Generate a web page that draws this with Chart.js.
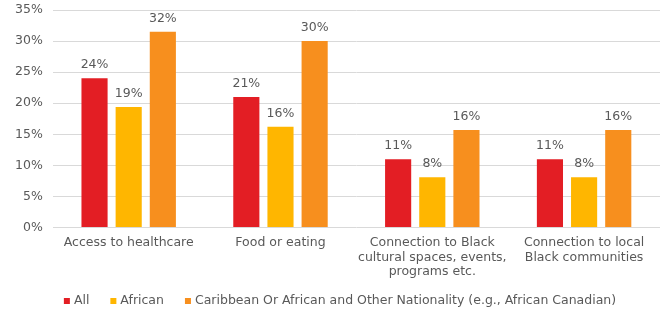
<!DOCTYPE html>
<html lang="en">
<head>
<meta charset="UTF-8">
<title>Barriers chart</title>
<script src="https://cdn.jsdelivr.net/npm/chart.js@4.4.1/dist/chart.umd.min.js"></script>
<style>
  html, body { margin: 0; padding: 0; background: #fff; }
  #wrap { width: 662px; height: 310px; }
</style>
</head>
<body>
<div id="wrap"><canvas id="myChart" width="662" height="310"></canvas></div>
<script>
// data
const categories = [
  'Access to healthcare',
  'Food or eating',
  ['Connection to Black', 'cultural spaces, events,', 'programs etc.'],
  ['Connection to local', 'Black communities']
];
const seriesNames = ['All', 'African', 'Caribbean Or African and Other Nationality (e.g., African Canadian)'];
const allValues = [24, 21, 11, 11];
const africanValues = [19.4, 16.2, 8.1, 8.1];
const caribbeanValues = [31.5, 30, 15.7, 15.7];
const yTicks = [0, 5, 10, 15, 20, 25, 30, 35];
const colors = ['#E31E24', '#FFB600', '#F78F1E'];

const textColor = '#595959';
const fontFamily = '"DejaVu Sans", sans-serif';
const fontSize = 12.5;

// value labels above the bars
const barLabels = {
  id: 'barLabels',
  afterDatasetsDraw(chart) {
    const ctx = chart.ctx;
    ctx.save();
    ctx.fillStyle = textColor;
    ctx.font = fontSize + 'px ' + fontFamily;
    ctx.textAlign = 'center';
    ctx.textBaseline = 'bottom';
    chart.data.datasets.forEach((ds, i) => {
      chart.getDatasetMeta(i).data.forEach((bar, j) => {
        ctx.fillText(Math.round(ds.data[j]) + '%', bar.x, bar.y - 7);
      });
    });
    ctx.restore();
  }
};

// small square legend under the axis labels
const bottomLegend = {
  id: 'bottomLegend',
  afterDraw(chart) {
    const ctx = chart.ctx;
    const box = 6, gap = 4, itemGap = 21, y = 301;
    ctx.save();
    ctx.font = fontSize + 'px ' + fontFamily;
    ctx.textBaseline = 'middle';
    const items = chart.data.datasets.map(ds => ({
      text: ds.label, color: ds.backgroundColor, w: ctx.measureText(ds.label).width
    }));
    let total = items.reduce((s, it) => s + box + gap + it.w, 0) + itemGap * (items.length - 1);
    let x = 340 - total / 2;
    items.forEach(it => {
      ctx.fillStyle = it.color;
      ctx.fillRect(x, y - box / 2, box, box);
      ctx.fillStyle = textColor;
      ctx.fillText(it.text, x + box + gap, y);
      x += box + gap + it.w + itemGap;
    });
    ctx.restore();
  }
};

const ctx = document.getElementById('myChart').getContext('2d');
new Chart(ctx, {
  type: 'bar',
  data: {
    labels: categories,
    datasets: [
      { label: seriesNames[0], data: allValues, backgroundColor: colors[0] },
      { label: seriesNames[1], data: africanValues, backgroundColor: colors[1] },
      { label: seriesNames[2], data: caribbeanValues, backgroundColor: colors[2] }
    ]
  },
  options: {
    responsive: false,
    animation: false,
    devicePixelRatio: 1,
    categoryPercentage: 0.675,
    barPercentage: 0.765,
    layout: { padding: { top: 10, right: 2, left: 5, bottom: 23 } },
    plugins: {
      legend: { display: false },
      tooltip: { enabled: false }
    },
    scales: {
      x: {
        grid: { display: false, drawTicks: false },
        border: { display: false },
        ticks: {
          color: textColor,
          padding: 8,
          font: { size: fontSize, family: fontFamily, lineHeight: 1.16 },
          maxRotation: 0,
          autoSkip: false
        }
      },
      y: {
        min: 0,
        max: 35,
        afterBuildTicks(axis) { axis.ticks = yTicks.map(v => ({ value: v })); },
        afterFit(scale) { scale.paddingTop = 0; },
        grid: { color: '#D9D9D9', drawTicks: false },
        border: { display: false },
        ticks: {
          color: textColor,
          padding: 10,
          font: { size: fontSize, family: fontFamily },
          callback: v => v + '%'
        }
      }
    }
  },
  plugins: [barLabels, bottomLegend]
});
</script>
</body>
</html>
